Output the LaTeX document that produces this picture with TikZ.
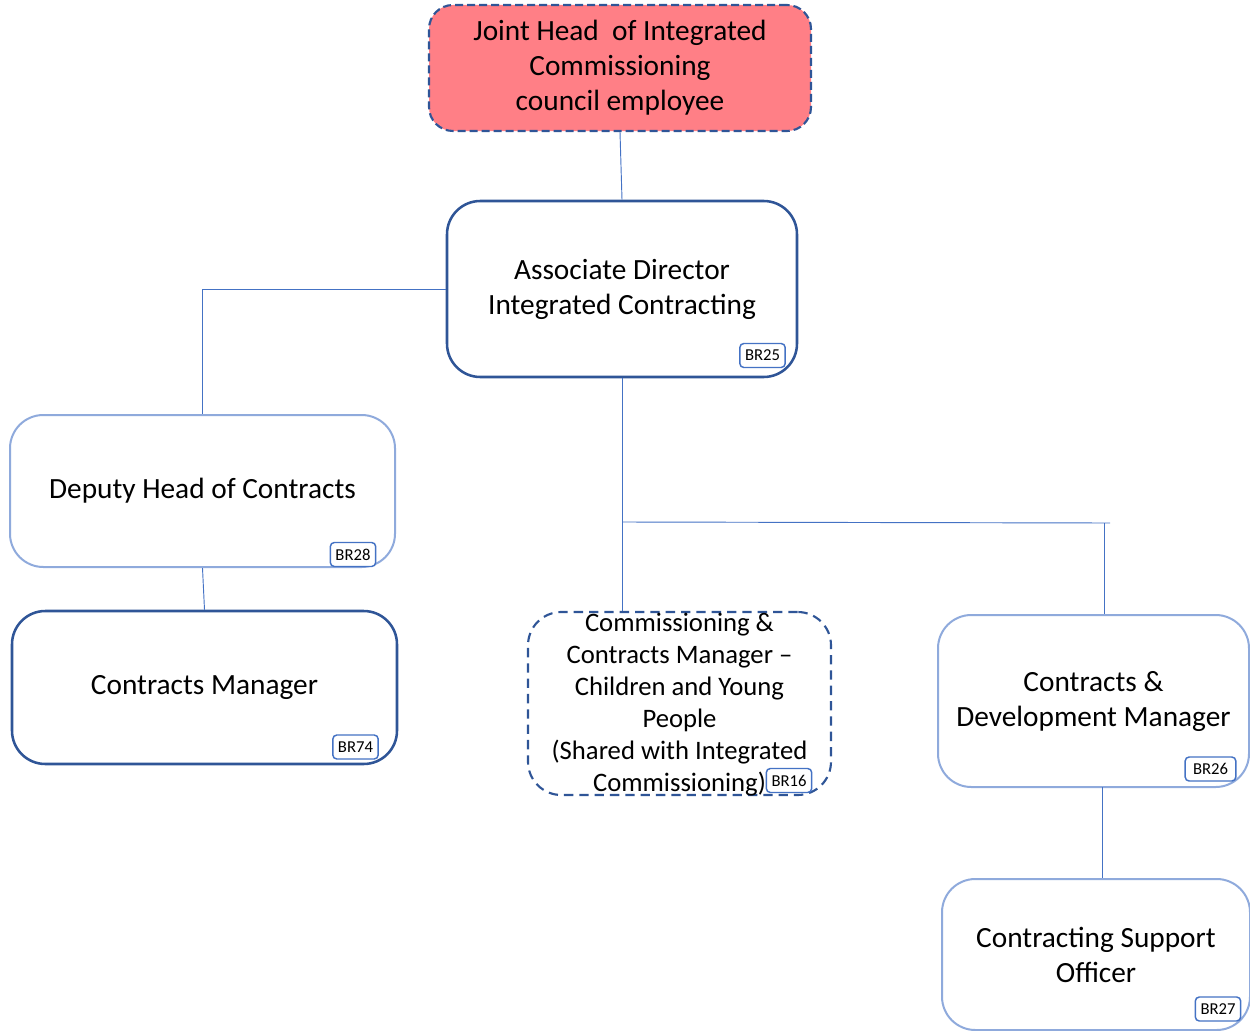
\documentclass[tikz,border=0pt]{standalone}
\usepackage{fontspec}
\setmainfont{Carlito}
\usetikzlibrary{positioning}
\definecolor{darkline}{HTML}{2F5597}
\definecolor{lightline}{HTML}{8FAADC}
\definecolor{linkblue}{HTML}{4472C4}
\definecolor{headpink}{HTML}{FF7F86}
\tikzset{
	role/.style={draw, rectangle, rounded corners=25pt, inner sep=2pt, align=center, fill=white,
		font=\fontsize{22}{26.25}\selectfont},
	mainrole/.style={role, draw=darkline, line width=1.9pt},
	subrole/.style={role, draw=lightline, line width=1.5pt},
	% for roles shared with other teams
	sharedrole/.style={role, draw=darkline, line width=1.6pt, dash pattern=on 7pt off 4.5pt},
	badge/.style={draw=linkblue, fill=white, rectangle, rounded corners=3pt, line width=1.1pt,
		inner sep=1pt, minimum width=34pt, minimum height=18pt, font=\fontsize{12.5}{14}\selectfont},
	link/.style={draw=linkblue, line width=0.7pt},
}
\begin{document}
\begin{tikzpicture}[x=0.75pt, y=-0.75pt]
			\useasboundingbox (0,0) rectangle (1250,1031);
			
			\node (head) [role, draw=darkline, line width=1.6pt, dash pattern=on 6pt off 3pt, fill=headpink,
				rounded corners=18pt, minimum width=286.5pt, minimum height=94.5pt] at (620,68)
				{Joint Head\ \ of Integrated\\Commissioning\\council employee};
			
			\node (assoc) [mainrole, minimum width=262.5pt, minimum height=132pt] at (622,289)
				{Associate Director\\Integrated Contracting};
			\node (b25) [badge] at (762.5,355.5) {BR25};
			
			\node (deputy) [subrole, minimum width=288.75pt, minimum height=114pt] at (202.5,491)
				{Deputy Head of Contracts};
			\node (b28) [badge] at (353,554.5) {BR28};
			
			\node (cm) [mainrole, minimum width=288.75pt, minimum height=114.75pt] at (204.5,687.5)
				{Contracts Manager};
			\node (b74) [badge] at (355.5,747) {BR74};
			
			\node (comm) [sharedrole, minimum width=227.25pt, minimum height=137.25pt] at (679.5,703.5) {};
			\node (commtext) [align=center, inner sep=0pt, font=\fontsize{20}{24}\selectfont] at (679.5,705)
				{Commissioning \&\\Contracts Manager --\\Children and Young\\People\\(Shared with Integrated\\Commissioning)};
			\node (b16) [badge] at (789,780.5) {BR16};
			
			\node (cdm) [subrole, minimum width=233.25pt, minimum height=129pt] at (1093.5,701)
				{Contracts \&\\Development Manager};
			\node (b26) [badge, minimum width=38pt] at (1210.5,769) {BR26};
			
			\node (cso) [subrole, minimum width=231pt, minimum height=113.25pt] at (1096,954.5)
				{Contracting Support\\Officer};
			\node (b27) [badge] at (1218,1009) {BR27};
			
			\coordinate (branch) at (622,522);
			\coordinate (branchend) at (1110,523);
			\coordinate (cdmtop) at (1104,523);
			\coordinate (cdmdown) at (1102,787);
			
			\begin{scope}[link]
				\draw (head.south) -- (assoc.north);
				\draw (assoc.west) -| (deputy.north);
				\draw (deputy.south) -- (cm.north);
				\draw (assoc.south) -- (assoc.south |- comm.north);
				\draw (branch) -- (branchend);
				\draw (cdmtop) -- (cdmtop |- cdm.north);
				\draw (cdmdown) -- (cdmdown |- cso.north);
			\end{scope}
			
		\end{tikzpicture}
\end{document}
